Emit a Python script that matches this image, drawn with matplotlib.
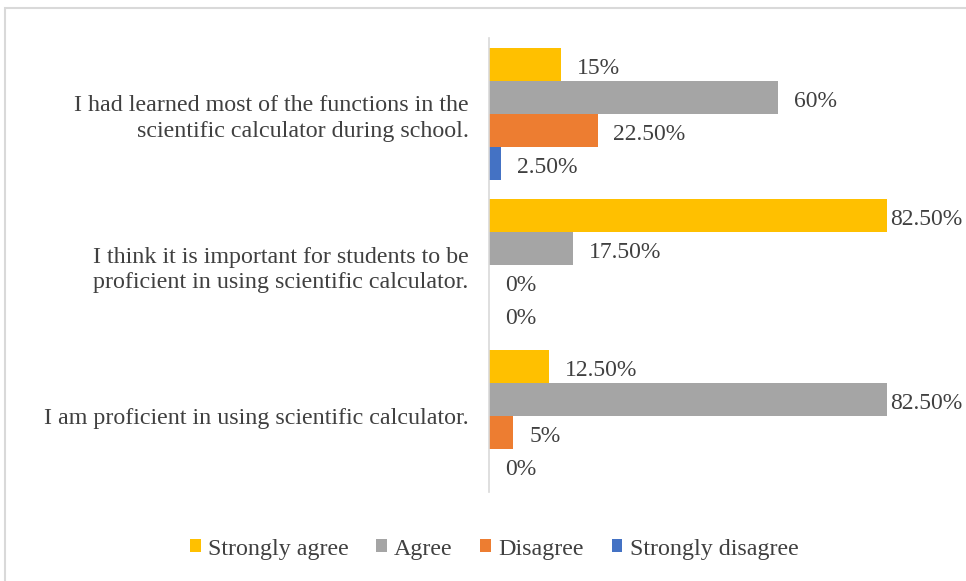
import matplotlib.pyplot as plt
import numpy as np
from matplotlib.patches import Rectangle


categories = [
    "I had learned most of the functions in the\nscientific calculator during school.",
    "I think it is important for students to be\nproficient in using scientific calculator.",
    "I am proficient in using scientific calculator.",
]
series = ["Strongly agree", "Agree", "Disagree", "Strongly disagree"]
strongly_agree = [15, 82.5, 12.5]
agree = [60, 17.5, 82.5]
disagree = [22.5, 0, 5]
strongly_disagree = [2.5, 0, 0]
colors = ["#FFC000", "#A5A5A5", "#ED7D31", "#4472C4"]


def fmt(v):
    if float(v).is_integer():
        return f"{int(v)}%"
    return f"{v:.2f}%"


def main():
    plt.rcParams["font.family"] = ["Liberation Serif", "DejaVu Serif"]
    text_color = "#404040"
    fs = 17.3

    W, H = 966, 581
    fig = plt.figure(figsize=(W / 100, H / 100), dpi=100)
    ax = fig.add_axes([489 / W, 1 - 492 / H, (923 - 489) / W, (492 - 38) / H])

    values = [strongly_agree, agree, disagree, strongly_disagree]
    y = np.arange(len(categories))
    h = 0.218

    for i, (name, vals, c) in enumerate(zip(series, values, colors)):
        pos = y - 1.5 * h + i * h
        ax.barh(pos, vals, height=h, color=c, label=name)
        for p, v in zip(pos, vals):
            off = 3 if v > 80 else 16
            ax.annotate(fmt(v), (v, p), xytext=(off, -4), textcoords="offset pixels",
                        ha="left", va="center", fontsize=17, color=text_color)

    ax.set_xlim(0, 90)
    ax.set_ylim(2.5, -0.5)
    ax.set_yticks(y)
    ax.set_yticklabels(categories, fontsize=fs, color=text_color, linespacing=1.28)
    ax.tick_params(axis="y", length=0, pad=14.5)
    ax.set_xticks([])
    for s in ["top", "right", "bottom"]:
        ax.spines[s].set_visible(False)
    ax.spines["left"].set_color("#d9d9d9")
    ax.spines["left"].set_linewidth(1.2)

    fig.legend(loc="center", bbox_to_anchor=(494 / W, 1 - 549 / H), ncol=4,
               frameon=False, fontsize=fs, labelcolor=text_color,
               handlelength=0.45, handleheight=0.45, handletextpad=0.3,
               columnspacing=1.15)

    fig.patches.append(Rectangle((5 / W, -0.05), 1.1, 1.05 - 8 / H,
                                 transform=fig.transFigure, fill=False,
                                 edgecolor="#d9d9d9", linewidth=1.5))

    fig.savefig("out.png", dpi=100)


if __name__ == "__main__":
    main()
